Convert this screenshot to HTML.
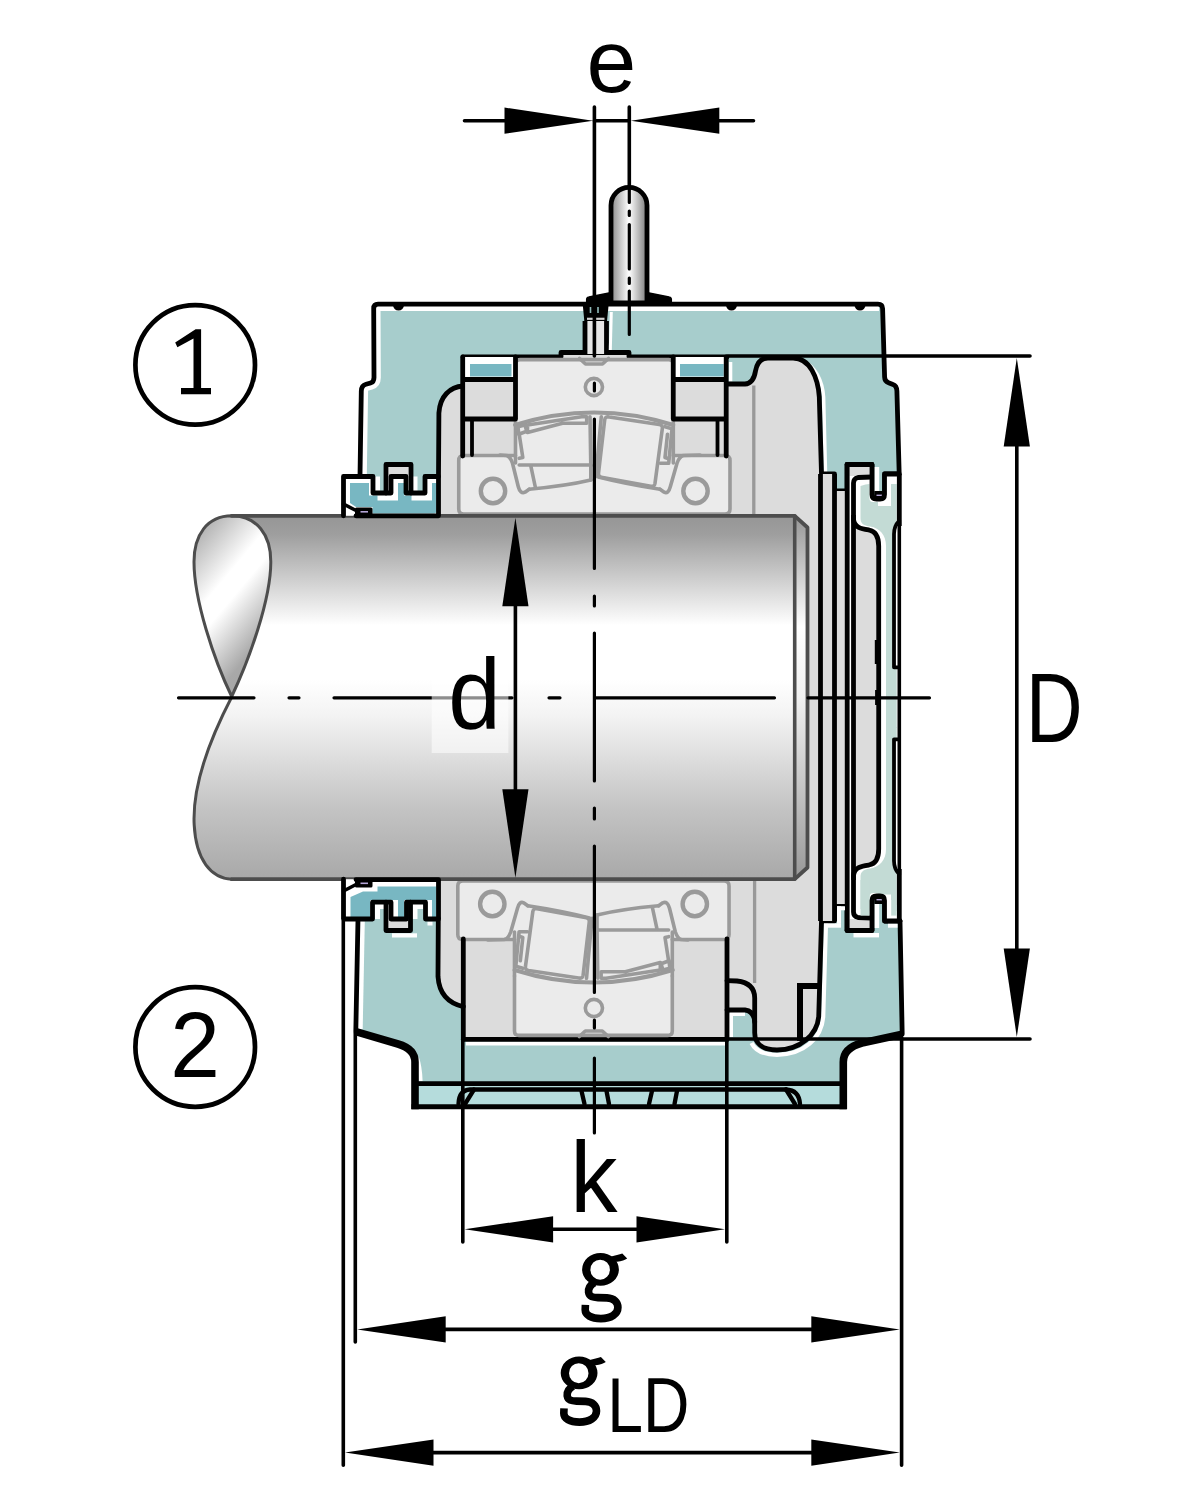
<!DOCTYPE html>
<html><head><meta charset="utf-8">
<style>
html,body{margin:0;padding:0;background:#fff;}
svg{display:block;font-family:"Liberation Sans",sans-serif;}
</style></head><body>
<svg width="1200" height="1500" viewBox="0 0 1200 1500">
<defs>
<linearGradient id="shaftG" x1="0" y1="516" x2="0" y2="880" gradientUnits="userSpaceOnUse">
<stop offset="0" stop-color="#969696"/><stop offset="0.05" stop-color="#9e9e9e"/><stop offset="0.30" stop-color="#ffffff"/><stop offset="0.45" stop-color="#ffffff"/><stop offset="0.55" stop-color="#f3f3f3"/><stop offset="0.80" stop-color="#c4c4c4"/><stop offset="1" stop-color="#a8a8a8"/>
</linearGradient>
<linearGradient id="tearG" x1="187" y1="542.5" x2="286.7" y2="626" gradientUnits="userSpaceOnUse">
<stop offset="0" stop-color="#aeaeae"/><stop offset="0.40" stop-color="#ffffff"/><stop offset="0.54" stop-color="#ffffff"/><stop offset="0.92" stop-color="#a8a8a8"/><stop offset="1" stop-color="#a6a6a6"/>
</linearGradient>
<linearGradient id="nipG" x1="611" y1="0" x2="647" y2="0" gradientUnits="userSpaceOnUse">
<stop offset="0" stop-color="#8a8a8a"/><stop offset="0.5" stop-color="#ffffff"/><stop offset="1" stop-color="#7c7c7c"/>
</linearGradient>
<linearGradient id="chamG" x1="0" y1="520" x2="0" y2="876" gradientUnits="userSpaceOnUse">
<stop offset="0" stop-color="#9a9a9a"/><stop offset="0.3" stop-color="#ffffff"/><stop offset="0.5" stop-color="#f0f0f0"/><stop offset="1" stop-color="#9a9a9a"/>
</linearGradient>
</defs>
<rect width="1200" height="1500" fill="#fff"/>
<g id="housing">
<!-- grey interior -->
<rect x="438" y="350" width="385" height="702" fill="#dcdcdc"/>
<!-- upper housing -->
<path id="hU" d="M360,476.5 L361.3,391 Q361.5,385.5 366,384.3 L370.5,383 Q374,382 374,377.5 L373.7,308.5 Q373.7,304.2 378,304.2 L878,304.2 Q882.5,304.2 882.6,308.5 L884.6,377 Q884.7,381.5 888.5,382.8 L893,384.5 Q896.7,385.8 896.9,391 L899.2,474 L884.5,474 L884.5,494.5 Q884.5,499 880,499 L876.5,499 Q872,499 872,494.5 L872,464.5 L847,464.5 L847,491 L834.5,491 L834.5,474 L821.5,474 L819.3,397 C818,378 810,358 793,358 L768,358 Q758,358 755.5,371 Q753.5,383.5 745,384 L727,384 L727,357 L629,357 L629,352.5 L561,352.5 L561,357 L463,357 L463,386 C450,387 440,396 438.9,413 L438.5,476.5 L425,476.5 L425,493 L411,493 L411,464.5 L386,464.5 L386,493 L373,493 L373,476.5 Z" fill="#a7cdcc" stroke="none"/>
<!-- lower housing -->
<path id="hL" d="M358,918.5 L355.8,1031.7 L398,1044 Q415,1049 415,1062 L415,1107 L843,1107 L843,1062 Q843,1048 862,1043 L902.2,1034.2 L900,921 L884.5,921 L884.5,900.5 Q884.5,896 880,896 L876.5,896 Q872,896 872,900.5 L872,930.5 L847,930.5 L847,904 L834.5,904 L834.5,921 L821.5,921 L818.7,1016.7 C817,1035 800,1050 777,1050 C762,1050 754.7,1043 754.7,1032.7 L754.7,1022 Q754,1011 745,1010 L727,1010 L727,1039.4 L463.3,1039.4 L463.3,1006.7 C447,1003 439,992 438,976.7 L438.3,918.5 L425,918.5 L425,902 L411,902 L411,930.5 L386,930.5 L386,902 L373,902 L373,918.5 Z" fill="#a7cdcc" stroke="none"/>
<!-- base lighter strip -->
<rect x="417" y="1084" width="426" height="22" fill="#b5dcdc"/>
<!-- white highlights -->
<g fill="none" stroke="#fff" stroke-linecap="butt" stroke-linejoin="round">
<path d="M360,476.5 L361.3,391 Q361.5,385.5 366,384.3 L370.5,383 Q374,382 374,377.5 L373.7,308.5 Q373.7,304.2 378,304.2 L879,304.2" stroke-width="13.6"/>
<path d="M825.5,472 L823.6,397 C822.5,381 815,366 804,361.5" stroke-width="3.5"/>
<path d="M466,1043.5 L725,1043.5" stroke-width="4"/>
<path d="M731,1037 L731,1014 L745,1014" stroke-width="4"/>
<path d="M420.6,1081 Q420,1066 417,1058" stroke-width="4"/>
<path d="M358,921 L355.9,1029" stroke-width="13.6"/>
<path d="M730.5,381.5 L730.5,362" stroke-width="3.6"/>
<path d="M826,923 L823.2,1017 C821.5,1038 804,1054.8 777,1054.8 C763,1054.8 755,1050 751.5,1043" stroke-width="4.2"/>
</g>
<!-- black outlines -->
<g fill="none" stroke="#000" stroke-width="4.8" stroke-linejoin="round" stroke-linecap="round">
<path d="M360,476.5 L361.3,391 Q361.5,385.5 366,384.3 L370.5,383 Q374,382 374,377.5 L373.7,308.5 Q373.7,304.2 378,304.2 L878,304.2 Q882.5,304.2 882.6,308.5 L884.6,377 Q884.7,381.5 888.5,382.8 L893,384.5 Q896.7,385.8 896.9,391 L899.2,474 L884.5,474 L884.5,494.5 Q884.5,499 880,499 L876.5,499 Q872,499 872,494.5 L872,464.5 L847,464.5 L847,491 L834.5,491 L834.5,474 L821.5,474 L819.3,397 C818,378 810,358 793,358 L768,358 Q758,358 755.5,371 Q753.5,383.5 745,384 L727,384"/>
<path d="M727,357 L629,357 L629,352.5 L561,352.5 L561,357 L463,357"/>
<path d="M463,386 C450,387 440,396 438.9,413 L438.5,476.5"/>
<path d="M358,918.5 L355.8,1031.7"/>
<path d="M900,921 L902.2,1034.2"/>
<path d="M900,921 L884.5,921 L884.5,900.5 Q884.5,896 880,896 L876.5,896 Q872,896 872,900.5 L872,930.5 L847,930.5 L847,904 L834.5,904 L834.5,921 L821.5,921 L818.7,1016.7 C817,1035 800,1050 777,1050 C762,1050 754.7,1043 754.7,1032.7 L754.7,998 Q754.7,983 737,981 L727,980.7"/>
<path d="M754.7,1022 Q754,1011 745,1010 L727,1010"/>
<path d="M727,1039.4 L463.3,1039.4"/>
<path d="M463.3,1006.7 C447,1003 439,992 438,976.7 L438.3,918.5"/>
<path d="M417,1083.6 L843,1083.6"/>
</g>
<!-- thick base outline -->
<path d="M355.8,1031.7 L398,1044 Q415,1049 415,1062 L415,1109.3 M843.3,1109.3 L843.3,1062 Q843.3,1048 862,1043 L902.2,1034.2" fill="none" stroke="#000" stroke-width="7.6" stroke-linejoin="round" stroke-linecap="butt"/>
<path d="M411.5,1106.8 L846.5,1106.8" fill="none" stroke="#000" stroke-width="5" stroke-linecap="butt"/>
<!-- rib in cavity -->
<path d="M800,1041 L800,986 L818,986" fill="none" stroke="#000" stroke-width="6" stroke-linejoin="miter"/>
<!-- base details -->
<g fill="none" stroke="#000" stroke-width="4.3" stroke-linecap="round">
<path d="M786,1089.5 L470,1089.5 Q459,1090 458.5,1104"/>
<path d="M474,1089.5 L465,1104"/>
<path d="M786,1089.5 Q799,1090 800,1104"/>
<path d="M786,1089.5 L795,1104"/>
<path d="M581.5,1091 L584.5,1104 M606.5,1091 L609,1104 M652,1091 L649,1104 M677,1091 L674.5,1104"/>
</g>
<!-- bolt marks -->
<g fill="#000"><path d="M393,305 a5.5,5.5 0 0 0 11,0 z"/><path d="M726,305 a5.5,5.5 0 0 0 11,0 z"/><path d="M854.5,305 a5.5,5.5 0 0 0 11,0 z"/></g>
</g>

<!-- BEGIN:BEARING -->
<g id="brg">
<rect x="515.5" y="358" width="157.8" height="100" fill="#ebebeb"/>
<rect x="458.75" y="456" width="271.25" height="58" rx="5" fill="#ebebeb"/>
<g fill="none" stroke="#9a9a9a" stroke-width="3.6" stroke-linejoin="round" stroke-linecap="round">
<path d="M515.5,455.5 L463.75,455.5 Q458.75,455.5 458.75,460.5 L458.75,509 Q458.75,514 463.75,514 L725,514 Q730,514 730,509 L730,460.5 Q730,455.5 725,455.5 L673.3,455.5"/>
<path d="M500,455 L506.7,455.5 Q510.3,456.7 512.5,463.3 L518.3,486.7 Q520.3,494.2 525.0,492.2 L529.2,489.2"/>
<path d="M700,455 L683.3,455.5 Q679.2,456.7 677.0,463.3 L670.3,486.7 Q668.3,494.2 664.2,492.2 L660.0,489.2"/>
<path d="M515.5,419 L515.5,463"/>
<path d="M673.3,419 L673.3,463"/>
<path d="M515.5,419 L515.5,364 Q515.5,359.6 520,359.6 L668.8,359.6 Q673.3,359.6 673.3,364 L673.3,419"/>
<path d="M515.0,425.0 Q594.2,400.0 673.3,425.0" stroke-width="4"/>
<path d="M609.2,417.0 L659.2,424.5 Q663.0,425.2 662.3,428.7 L655.0,483.3 Q654.3,487.0 650.8,486.2 L601.3,477.3 Q598.0,476.7 598.5,473.3 L604.7,419.7 Q605.2,416.3 609.2,417.0 Z"/>
<path d="M601.3,416.7 L595.8,476.7"/>
<path d="M590.0,416.7 L590.8,465.8"/>
<path d="M665.0,426.7 L672.0,428.7 L668.7,463.3 L660.3,463.3"/>
<path d="M667.5,434.2 L665.0,457.5 L668.7,458.7"/>
<path d="M529.2,489.2 Q566.7,485.8 590.8,480.0"/>
<path d="M598.3,477.0 Q626.7,484.2 660.0,489.2"/>
<path d="M519.2,465.0 L590.8,465.0"/>
<path d="M530.8,465.8 L535.3,487.0"/>
<path d="M590.8,465.8 L590.8,480.0"/>
<path d="M527.5,425.0 L581.7,416.7 L586.7,416.7 L586.7,423.3 L562.5,423.3 L527.5,432.5 Z"/>
<path d="M518.7,434.2 L518.0,426.7 L525.0,425.0 L526.7,431.3 Z"/>
<path d="M519.2,434.2 L522.8,457.5 L519.2,458.3"/>
<circle cx="593.9" cy="387" r="8.6" stroke-width="3.6"/>
<path d="M579.5,358.5 L585.5,364 L602.5,364 L608.5,358.5" stroke-width="3.6"/>
<circle cx="493" cy="491" r="12.2" stroke-width="4.4"/>
<circle cx="695.5" cy="491" r="12.2" stroke-width="4.4"/>
</g>
</g>
<use href="#brg" transform="rotate(180 593.9 697.5)"/>
<!-- locating rings (top) -->
<g id="locrings">
<rect x="462.5" y="357" width="53" height="22.5" fill="#fff"/>
<rect x="470" y="364" width="41.5" height="12.5" fill="#78b7c2"/>
<rect x="462.5" y="379.5" width="53" height="39.5" fill="#dcdcdc"/>
<rect x="673.25" y="357" width="53" height="22.5" fill="#fff"/>
<rect x="680" y="364" width="43.7" height="12.5" fill="#78b7c2"/>
<rect x="673.25" y="379.5" width="53" height="39.5" fill="#dcdcdc"/>
<g fill="none" stroke="#000" stroke-width="4.8" stroke-linecap="round" stroke-linejoin="round">
<path d="M462.7,357 L462.7,456 M515.5,357 L515.5,419 L462.7,419 M462.7,379.5 L515.5,379.5"/>
<path d="M726.2,357 L726.2,456 M673.25,357 L673.25,419 L726.2,419 M673.25,379.5 L726.2,379.5"/>
<path d="M472,419 L472,455 M717.5,419 L717.5,455" stroke-width="3.8"/>
</g>
</g>
<!-- lower half black verticals -->
<path d="M463.3,939 L463.3,1039.4 M727,939 L727,1039.4" fill="none" stroke="#000" stroke-width="4.8" stroke-linecap="round"/>
<!-- grey lines right of bearing -->
<path d="M753.8,385.5 L753.8,516 M754.6,879 L754.6,983" fill="none" stroke="#999" stroke-width="3.3"/>

<!-- END:BEARING -->
<!-- BEGIN:SHAFT -->

<g id="shaft">
<path d="M231.7,515.8 L794.7,515.8 L794.7,879.2 L231.7,879.2 C211,878 196,860 194.2,825 C192,785 212,735 231.7,697 Z" fill="url(#shaftG)"/>
<path d="M794.7,515.8 L807.5,527.5 L807.5,867.5 L794.7,879.2 Z" fill="url(#chamG)"/>
<path d="M231.7,515.8 C257,516 270.8,535 270.8,561.7 C270.8,600 249,660 231.7,696.5 C214,660 194,600 194,561.7 C194,535 207,516 231.7,515.8 Z" fill="url(#tearG)" stroke="#4d4d4d" stroke-width="3"/>
<g fill="none" stroke="#4d4d4d" stroke-linejoin="round" stroke-linecap="round">
<path d="M231.7,515.8 L794.7,515.8 L807.5,527.5 L807.5,867.5 L794.7,879.2 L231.7,879.2" stroke-width="3.8"/>
<path d="M794.7,515.8 L794.7,879.2" stroke-width="3.6"/>
<path d="M231.7,879.2 C211,878 196,860 194.2,825 C192,785 212,735 231.7,697" stroke-width="3"/>
</g>
</g>

<!-- END:SHAFT -->
<!-- BEGIN:SEALS -->
<g id="seal">
<rect x="343.5" y="476.5" width="94.8" height="39.3" fill="#fff"/>
<path d="M350,483 L369,483 L369,495.5 L377.5,495.5 L377.5,500.5 L398,500.5 L398,483 L404,483 L404,495.5 L411.5,495.5 L411.5,500.5 L432,500.5 L432,483 L436.3,483 L436.3,511 Q436.3,513.5 433.8,513.5 L372.5,513.5 L372.5,507 L356,507 L350,503 Z" fill="#78b7c2"/>
<rect x="380" y="474" width="4.5" height="17" fill="#a7cdcc"/>
<rect x="417.5" y="468" width="5.5" height="23" fill="#a7cdcc"/>
<rect x="413" y="466" width="5" height="6" fill="#a7cdcc"/>
<rect x="388.5" y="467" width="20" height="8" fill="#dcdcdc"/>
<g fill="none" stroke="#000" stroke-width="4.8" stroke-linejoin="round" stroke-linecap="round">
<path d="M343.5,515.8 L343.5,476.5 L373,476.5 L373,493 L391,493 L391,476.5 L406,476.5 L406,493 L425,493 L425,476.5 L438.5,476.5 L438.5,515.8 L356,515.8"/>
<path d="M386,493 L386,464.5 L411,464.5 L411,493"/>
<path d="M343.5,504 L356,510.5" stroke-width="3.6"/>
</g>
<rect x="355" y="507.5" width="17.5" height="8.5" rx="1.5" fill="#000"/>
<path d="M360.5,511.8 L368,511.8" stroke="#b4a5d6" stroke-width="1.6"/>
</g>
<g id="sealL">
<rect x="343.5" y="879.2" width="94.8" height="39.8" fill="#fff"/>
<path d="M350.5,897 L363,891.5 L377.5,891.5 L377.5,886.5 L436.2,886.5 L436.2,917 L432,917 L432,900 L404,900 L404,917 L398,917 L398,900 L370,900 L370,917 L350.5,917 Z" fill="#78b7c2"/>
<rect x="380" y="909" width="4.5" height="13" fill="#a7cdcc"/>
<rect x="417.5" y="909" width="5.5" height="13" fill="#a7cdcc"/>
<rect x="388.5" y="920" width="20" height="8.5" fill="#dcdcdc"/>
<rect x="392" y="933.3" width="25" height="4.2" fill="#fff"/>
<rect x="427.5" y="921.5" width="5" height="4" fill="#fff"/>
<g fill="none" stroke="#000" stroke-width="4.8" stroke-linejoin="round" stroke-linecap="round">
<path d="M356,879.6 L438.5,879.6 L438.5,919 L425.5,919 L425.5,902.2 L406.5,902.2 L406.5,919 L391,919 L391,902.2 L372.5,902.2 L372.5,919 L343.5,919 L343.5,879.2"/>
<path d="M386,902.2 L386,930.5 L410.5,930.5 L410.5,902.2"/>
<path d="M343.5,891 L356,884.5" stroke-width="3.6"/>
</g>
<rect x="355" y="879" width="17.5" height="8.5" rx="1.5" fill="#000"/>
<path d="M360.5,883.3 L368,883.3" stroke="#b4a5d6" stroke-width="1.6"/>
</g>
<!-- END:SEALS -->
<!-- BEGIN:COVER -->

<g id="cover">
<!-- backgrounds -->
<rect x="820.5" y="474" width="14" height="224" fill="#dcdcdc"/>
<rect x="834.5" y="491" width="12.7" height="207" fill="#dcdcdc"/>
<rect x="847.2" y="466" width="6.5" height="232" fill="#fff"/>
<rect x="849.5" y="467" width="20.5" height="9" fill="#dcdcdc"/>
<!-- end cover body -->
<path d="M872,477 L858,477.5 Q853.5,478.5 853.5,483 L853.5,519 C854,528 862,529 869,530 C877,531.5 878.7,538 878.7,546 L878.7,698 L899.3,698 L899.3,476 L884.5,476 L884.5,498 L872,498 Z" fill="#fff"/>
<path d="M853.5,483 L853.5,519 C854,528 862,529 869,530 C877,531.5 878.7,538 878.7,546 L878.7,698 L856,698 Z" fill="#dcdcdc"/>
<path d="M860.5,486 Q866,484 869.5,484 L869.5,498.5 Q869.5,502 873,502 L878,502 L878,506 L891,506 L891,484 L896.7,484 L896.7,522 Q892,527 892,534 L892,667 L896.7,667 L896.7,698 L886,698 L886,546 C886,535 880,528 870,526.5 C862,525.5 860.5,522 860.5,518 Z" fill="#c3dbd5"/>
<g fill="none" stroke="#000" stroke-width="4.8" stroke-linejoin="round" stroke-linecap="butt">
<path d="M820.5,474 L820.5,698"/>
<path d="M834.5,474 L834.5,698"/>
<path d="M847.2,464.5 L847.2,698"/>
<path d="M872,477 L858,477.5 Q853.5,478.5 853.5,483 L853.5,519 C854,528 862,529 869,530 C877,531.5 878.7,538 878.7,546 L878.7,698"/>
<path d="M899.3,474 L899.3,526"/>
<path d="M853.5,515 L853.5,698"/>
<path d="M899.3,520 L899.3,698" stroke-width="3.6"/>
</g>
<rect x="874.4" y="467" width="5" height="24.5" fill="#fff"/><rect x="879.4" y="467" width="3" height="24" fill="#a7cdcc"/><rect x="874.4" y="491" width="7.8" height="6.5" fill="#000"/>
<path d="M876.5,495.3 L882,495.3" stroke="#b4a5d6" stroke-width="1.4"/>
</g>
<use href="#cover" transform="translate(0 1395) scale(1 -1)"/>
<path d="M877.3,640 L877.3,664 M877.6,690 L877.6,705" fill="none" stroke="#000" stroke-width="5"/>
<g fill="#fff"><rect x="837" y="906.3" width="8" height="4"/><rect x="837" y="906.3" width="4" height="17.5"/><rect x="824" y="923.4" width="17" height="4.3"/><rect x="853.5" y="933" width="25.5" height="4.4"/><rect x="888" y="923.5" width="9.5" height="4.2"/></g>
<g fill="#c3dbd5"><rect x="860.5" y="880" width="9.2" height="35.6"/><rect x="877.5" y="888.5" width="14" height="6"/><rect x="891" y="905" width="5.7" height="10.6"/></g><rect x="887.6" y="900" width="3.6" height="18" fill="#fff"/>
<rect x="890.3" y="727" width="6.4" height="12.3" fill="#c3dbd5"/>
<g fill="none" stroke="#000" stroke-width="3.8" stroke-linejoin="round"><path d="M899,521 Q894,526 894,534 L894,667.3 L899.3,667.3"/><path d="M899,874 Q894,869 894,861 L894,739.3 L899.3,739.3"/></g>
<!-- redraw housing fingers over cover -->
<g fill="none" stroke="#000" stroke-width="4.8" stroke-linejoin="round" stroke-linecap="round">
<path d="M899.2,474 L884.5,474 L884.5,494.5 Q884.5,499 880,499 L876.5,499 Q872,499 872,494.5 L872,464.5 L847,464.5"/>
<path d="M900,921 L884.5,921 L884.5,900.5 Q884.5,896 880,896 L876.5,896 Q872,896 872,900.5 L872,930.5 L847,930.5"/>
</g>

<!-- END:COVER -->
<!-- BEGIN:NIPPLE -->

<g id="nipple">
<path d="M611,303 L611,205.3 A18,18 0 0 1 647,205.3 L647,303 Z" fill="url(#nipG)" stroke="#000" stroke-width="4.8"/>
<path d="M586.7,302.5 L586.7,299 Q587,297.3 589,297 L609,293 L609,302.5 Z M671.3,302.5 L671.3,299 Q671,297.3 669,297 L649,293 L649,302.5 Z" fill="#000" stroke="#000" stroke-width="1.5" stroke-linejoin="round"/>
<!-- drill hole -->
<path d="M582.7,304 L608.7,304 L607,321 L584.3,321 Z" fill="#000"/>
<rect x="585" y="321" width="21.5" height="33" fill="#e6e6e6"/>
<path d="M587,318.8 L604.5,318.8" stroke="#d0d0d0" stroke-width="2.2"/>
<path d="M590.5,307 L590.5,313 M598,307 L598,313" stroke="#8fb9b8" stroke-width="1.6"/>
<path d="M585,321 L585,354 M606.5,321 L606.5,354" stroke="#000" stroke-width="4.8" fill="none"/>
<path d="M611.3,312 L610.3,350" stroke="#fff" stroke-width="3" fill="none"/>
</g>

<!-- END:NIPPLE -->
<!-- BEGIN:DIMS -->
<g id="dims" stroke="#000" fill="none" stroke-width="3.6" stroke-linecap="round">
<path d="M464.5,120.7 L510,120.7 M594.4,120.7 L629.3,120.7 M715,120.7 L753.5,120.7"/>
<path d="M594.4,107 L594.4,356"/>
<path d="M629.3,107 L629.3,186"/>
<path d="M728,356 L1030,356 M728,1039 L1030,1039 M1016.8,440 L1016.8,955"/>
<path d="M515.4,600 L515.4,795"/>
<path d="M462.8,1040 L462.8,1242 M726.8,1040 L726.8,1242 M550,1229.3 L640,1229.3"/>
<path d="M355.3,1033 L355.3,1342 M440,1329.4 L815,1329.4"/>
<path d="M343.3,921 L343.3,1465.3 M901.6,1037 L901.6,1465.3 M428,1452.6 L815,1452.6"/>
</g>
<g fill="#000" stroke="none">
<path d="M593.0,120.7 L504.5,107.6 L504.5,133.8 Z"/>
<path d="M630.8,120.7 L719.3,107.6 L719.3,133.8 Z"/>
<path d="M1016.8,358.0 L1003.7,446.5 L1029.9,446.5 Z"/>
<path d="M1016.8,1037.0 L1003.7,948.5 L1029.9,948.5 Z"/>
<path d="M515.4,517.8 L502.3,606.3 L528.5,606.3 Z"/>
<path d="M515.4,877.8 L502.3,789.3 L528.5,789.3 Z"/>
<path d="M464.6,1229.3 L553.1,1216.2 L553.1,1242.4 Z"/>
<path d="M725.0,1229.3 L636.5,1216.2 L636.5,1242.4 Z"/>
<path d="M357.2,1329.4 L445.7,1316.3 L445.7,1342.5 Z"/>
<path d="M899.8,1329.4 L811.3,1316.3 L811.3,1342.5 Z"/>
<path d="M345.0,1452.6 L433.5,1439.5 L433.5,1465.7 Z"/>
<path d="M899.8,1452.6 L811.3,1439.5 L811.3,1465.7 Z"/>
</g>
<g stroke="#000" fill="none" stroke-width="3.2" stroke-linecap="round">
<path d="M178.5,697.8 L254,697.8 M289,697.8 L299,697.8 M334,697.8 L512,697.8 M549,697.8 L560,697.8 M596,697.8 L774.5,697.8 M808,697.8 L929.5,697.8"/>
<path d="M594.4,383 L594.4,391 M594.4,419 L594.4,568.5 M594.4,596 L594.4,606 M594.4,633 L594.4,781 M594.4,808 L594.4,819 M594.4,846 L594.4,992.5 M594.4,1020 L594.4,1028 M594.4,1058 L594.4,1133"/>
<path d="M629.3,186 L629.3,202.5 M629.3,211 L629.3,215.5 M629.3,224.5 L629.3,269 M629.3,278 L629.3,283.5 M629.3,291 L629.3,334.5"/>
</g>
<!-- END:DIMS -->
<!-- BEGIN:TEXT -->
<rect x="431.7" y="660.8" width="76.7" height="92.2" fill="#fff" fill-opacity="0.55"/>
<g fill="#000" font-family="Liberation Sans, sans-serif">
<text transform="translate(611.5 92)" font-size="89.5" text-anchor="middle">e</text>
<text transform="translate(474.5 728.5) scale(0.935 1)" font-size="101" text-anchor="middle">d</text>
<text transform="translate(1025.8 741.8) scale(0.8 1)" font-size="98.5">D</text>
<text transform="translate(570.2 1212) scale(0.94 1)" font-size="100.5">k</text>
<text transform="translate(607.2 1432.3) scale(0.82 1)" font-size="78.5">LD</text>
<text transform="translate(195 1077) scale(0.96 1)" font-size="93" text-anchor="middle">2</text>
<path d="M175.2,342.6 L195.6,329.2 L201.1,329.2 L201.1,388 L211,388 L211,394.2 L181,394.2 L181,388 L193.5,388 L193.5,338.6 L177.4,347.2 Z"/>
<g id="gG">
<path fill-rule="evenodd" d="M582.1,1269.45 a18.4,16.35 0 1 0 36.8,0 a18.4,16.35 0 1 0 -36.8,0 Z M590.4,1269.7 a9.75,10.05 0 1 1 19.5,0 a9.75,10.05 0 1 1 -19.5,0 Z"/>
<path d="M611,1256.5 L617,1255 Q620,1254.6 622.3,1253.6 L627.2,1258.4 Q624,1260.6 617,1261.8 L612,1262 Z"/>
<path d="M594.5,1282.6 C590,1285 588.3,1289 588.6,1292.3 C589.3,1297 593,1297.4 598,1297.6 L607,1297.9 C614,1298.3 617.9,1302 617.9,1307.5 C617.9,1314 611,1318.6 600.9,1318.6 C591,1318.6 585.2,1315 585.2,1309.8 L585.4,1304.8" fill="none" stroke="#000" stroke-width="7.6" stroke-linecap="butt"/>
</g>
<use href="#gG" transform="translate(-21.4 103.5)"/>
</g>
<circle cx="195.2" cy="364.9" r="59.8" fill="none" stroke="#000" stroke-width="4.7"/>
<circle cx="195.2" cy="1047" r="59.8" fill="none" stroke="#000" stroke-width="4.7"/>
<!-- END:TEXT -->
</svg>
</body></html>
